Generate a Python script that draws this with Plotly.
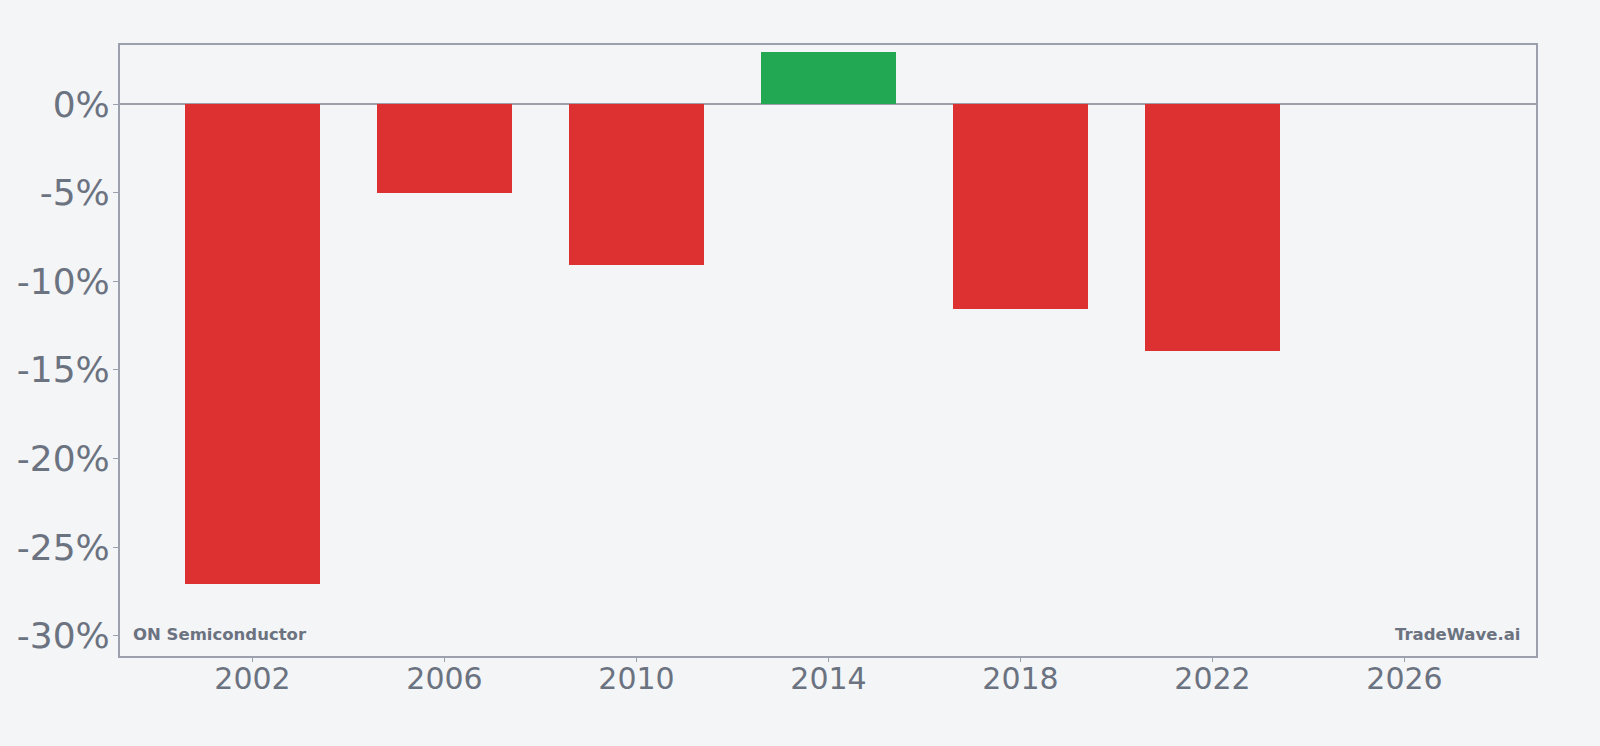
import plotly.graph_objects as go

years = [2002, 2006, 2010, 2014, 2018, 2022]
returns = [-27.07, -5.02, -9.08, 2.92, -11.56, -13.93]
x_ticks = [2002, 2006, 2010, 2014, 2018, 2022, 2026]
y_ticks = [0, -5, -10, -15, -20, -25, -30]

colors = ["#22a853" if v >= 0 else "#dc3031" for v in returns]

fig = go.Figure(go.Bar(x=years, y=returns, width=2.8, marker=dict(color=colors, line=dict(width=0))))

axis_color = "#9ca0ad"
text_color = "#6b7280"
bg = "#f4f5f7"

fig.update_layout(
    width=1600, height=746,
    margin=dict(l=120, r=64, t=45, b=90),
    paper_bgcolor=bg, plot_bgcolor=bg,
    font=dict(family="DejaVu Sans", color=text_color),
    showlegend=False,
    bargap=0,
)
fig.update_xaxes(
    range=[1999.24, 2028.74], tickvals=x_ticks, ticktext=[str(t) for t in x_ticks],
    showgrid=False, zeroline=False, showline=True, linecolor=axis_color, linewidth=2, mirror=True,
    ticks="outside", ticklen=4, tickcolor=axis_color, tickfont=dict(size=30, color=text_color),
    ticklabelstandoff=-9,
)
fig.update_yaxes(
    range=[-31.15, 3.33], tickvals=y_ticks, ticktext=[f"{t}%" for t in y_ticks],
    showgrid=False, zeroline=True, zerolinecolor=axis_color, zerolinewidth=2,
    showline=True, linecolor=axis_color, linewidth=2, mirror=True,
    ticks="outside", ticklen=5, tickcolor=axis_color, tickfont=dict(size=36, color=text_color),
    ticklabelstandoff=-4,
)
fig.add_annotation(text="<b>ON Semiconductor</b>", xref="paper", yref="paper", x=0.008, y=0.017,
                   xanchor="left", yanchor="bottom", showarrow=False, font=dict(size=16.5, color=text_color))
fig.add_annotation(text="<b>TradeWave.ai</b>", xref="paper", yref="paper", x=0.99, y=0.017,
                   xanchor="right", yanchor="bottom", showarrow=False, font=dict(size=16.5, color=text_color))

fig.write_html("out.html")
